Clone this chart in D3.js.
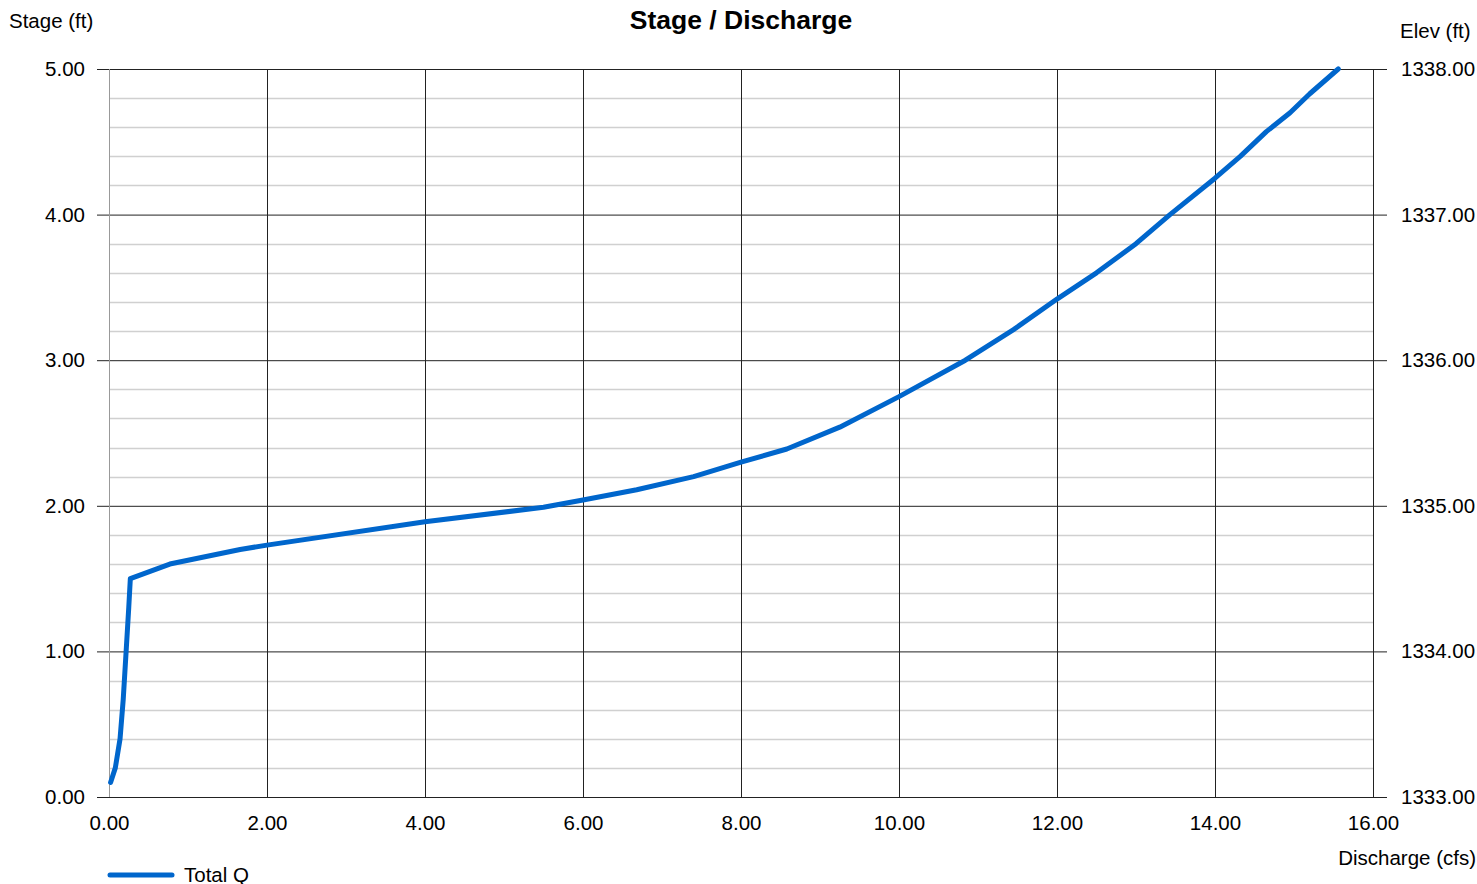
<!DOCTYPE html>
<html lang="en">
<head>
  <meta charset="utf-8">
  <title>Stage / Discharge</title>
  <script src="https://cdn.jsdelivr.net/npm/d3@7"></script>
  <style>
    body { margin: 0; background: #fff; }
    text { font-family: "Liberation Sans", Arial, sans-serif; fill: #000; }
  </style>
</head>
<body>
  <svg width="1477" height="884" id="mainsvg"></svg>
  <script>
    // data
    const discharge = [0.02, 0.08, 0.14, 0.18, 0.22, 0.25, 0.27, 0.77, 1.66, 2.00, 4.00, 5.50, 6.00, 6.68,
      7.40, 8.00, 8.58, 9.25, 10.00, 10.84, 11.45, 12.00, 12.50, 13.00, 13.43, 14.00, 14.32, 14.65,
      14.95, 15.20, 15.56];
    const stage = [0.10, 0.20, 0.40, 0.67, 1.03, 1.30, 1.50, 1.60, 1.70, 1.73, 1.89, 1.99, 2.04, 2.11,
      2.20, 2.30, 2.39, 2.54, 2.75, 3.00, 3.21, 3.42, 3.60, 3.80, 4.00, 4.25, 4.40, 4.57,
      4.70, 4.83, 5.00];
    const xTicks = [0, 2, 4, 6, 8, 10, 12, 14, 16];
    const yTicks = [0, 1, 2, 3, 4, 5];
    const elevBase = 1333;

    const data = discharge.map((d, i) => ({ q: d, s: stage[i] }));

    const svg = d3.select('#mainsvg');
    const width = +svg.attr('width');
    const height = +svg.attr('height');
    const margin = { top: 69, right: 104, bottom: 87, left: 109 };
    const innerWidth = width - margin.left - margin.right;
    const innerHeight = height - margin.top - margin.bottom;
    const fs = 20.5;

    const x = d3.scaleLinear().domain([0, 16]).range([0, innerWidth]);
    const y = d3.scaleLinear().domain([0, 5]).range([innerHeight, 0]);
    const yElev = d3.scaleLinear().domain([elevBase, elevBase + 5]).range([innerHeight, 0]);

    const g = svg.append('g').attr('transform', `translate(${margin.left},${margin.top})`);

    // minor horizontal grid every 0.2
    const minor = d3.range(0, 5.01, 0.2).filter(v => Math.abs(v - Math.round(v)) > 0.01);
    g.append('g').selectAll('line').data(minor).join('line')
      .attr('x1', 0).attr('x2', innerWidth)
      .attr('y1', d => Math.round(y(d)) + 0.5).attr('y2', d => Math.round(y(d)) + 0.5)
      .attr('stroke', '#d0d0d0').attr('stroke-width', 1.5);

    // major grid + left axis
    const leftAxis = d3.axisLeft(y).tickValues(yTicks).tickFormat(d3.format('.2f'))
      .tickSize(12).tickPadding(12);
    const la = g.append('g').call(leftAxis);
    la.select('.domain').remove();
    la.selectAll('text').attr('font-size', fs).attr('x', -24);
    la.selectAll('line').attr('x2', innerWidth).attr('x1', -12).attr('stroke', '#222');

    const rightAxis = d3.axisRight(yElev).tickValues(yTicks.map(v => v + elevBase))
      .tickFormat(d3.format('.2f')).tickSize(14).tickPadding(14);
    const ra = g.append('g').attr('transform', `translate(${innerWidth},0)`).call(rightAxis);
    ra.select('.domain').remove();
    ra.selectAll('text').attr('font-size', fs);
    ra.selectAll('line').attr('stroke', '#222');

    const bottomAxis = d3.axisBottom(x).tickValues(xTicks).tickFormat(d3.format('.2f'))
      .tickSize(0).tickPadding(18);
    const ba = g.append('g').attr('transform', `translate(0,${innerHeight})`).call(bottomAxis);
    ba.select('.domain').remove();
    ba.selectAll('text').attr('font-size', fs);

    // vertical grid
    g.append('g').selectAll('line').data(xTicks).join('line')
      .attr('x1', d => Math.round(x(d)) + 0.5).attr('x2', d => Math.round(x(d)) + 0.5)
      .attr('y1', 0).attr('y2', innerHeight)
      .attr('stroke', d => d === 0 ? '#999' : '#222').attr('stroke-width', 1);

    // curve
    const line = d3.line().x(d => x(d.q)).y(d => y(d.s));
    g.append('path').datum(data)
      .attr('d', line)
      .attr('fill', 'none')
      .attr('stroke', '#0066cc')
      .attr('stroke-width', 5)
      .attr('stroke-linejoin', 'round')
      .attr('stroke-linecap', 'round');

    // titles
    svg.append('text').text('Stage / Discharge')
      .attr('x', 741).attr('y', 29).attr('text-anchor', 'middle')
      .attr('font-size', 26.5).attr('font-weight', 'bold');
    svg.append('text').text('Stage (ft)').attr('x', 9).attr('y', 28).attr('font-size', fs);
    svg.append('text').text('Elev (ft)').attr('x', 1400).attr('y', 38).attr('font-size', fs);
    svg.append('text').text('Discharge (cfs)').attr('x', 1476).attr('y', 865)
      .attr('text-anchor', 'end').attr('font-size', fs);

    // legend
    svg.append('line').attr('x1', 110).attr('x2', 172).attr('y1', 875).attr('y2', 875)
      .attr('stroke', '#0066cc').attr('stroke-width', 5).attr('stroke-linecap', 'round');
    svg.append('text').text('Total Q').attr('x', 184).attr('y', 882).attr('font-size', fs);
  </script>
</body>
</html>
